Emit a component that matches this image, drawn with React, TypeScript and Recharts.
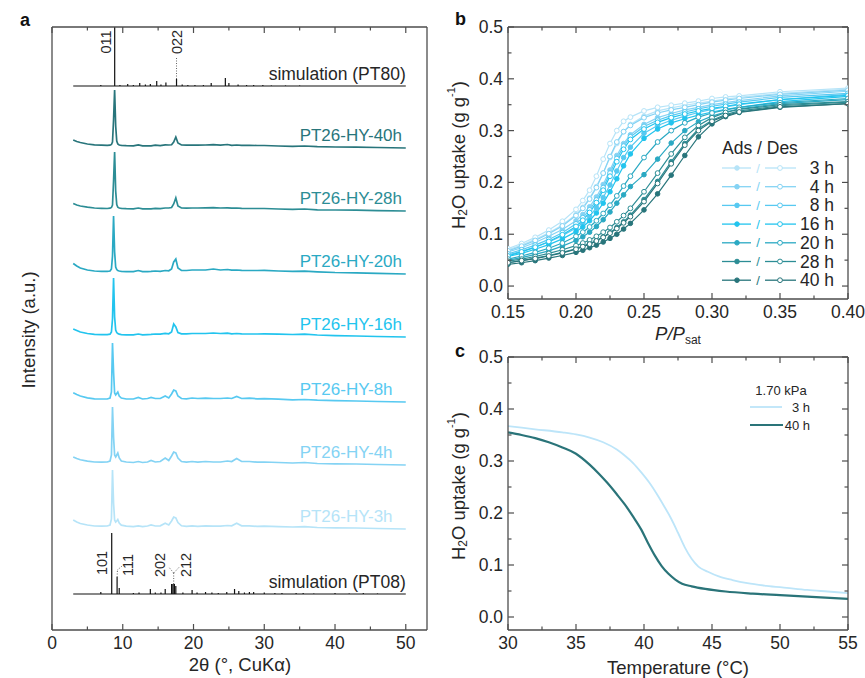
import React from 'react';
import { LineChart, Line, XAxis, YAxis, ReferenceDot, ReferenceLine } from 'recharts';

const FONT = '"Liberation Sans", Arial, Helvetica, sans-serif';
const AXIS = '#4d4d4d';
const INK = '#262626';

// sample colours, 3 h -> 40 h
const COLORS = ['#b6e4f8', '#84d3f4', '#57c9f1', '#22c4ee', '#2aa9c3', '#2c8d95', '#28757b'];
const HOURS = ['3', '4', '8', '16', '20', '28', '40'];

// ---------- a: PXRD patterns (a.u.) ----------
const TWO_THETA = [3, 3.5, 4, 5, 6, 7, 7.8, 8.2, 8.4, 8.55, 8.7, 8.85, 9.0, 9.15, 9.3, 9.5, 9.8, 10.5, 11.5, 12.2, 12.8, 13.5, 14.0, 14.6, 15.3, 16.0, 16.5, 16.9, 17.2, 17.5, 17.8, 18.3, 19.0, 19.8, 20.6, 21.7, 22.8, 23.8, 24.8, 25.4, 26.1, 26.8, 27.9, 29.0, 30.0, 32.0, 34.0, 35.7, 37.5, 40.0, 43.0, 46.0, 50.0];
const I_3H = [9, 7, 5.5, 4, 3, 2.8, 3, 4, 10, 59, 26, 9, 7, 8, 9.5, 6, 3.8, 2.8, 2.4, 3.2, 2.4, 3, 4, 3, 3.2, 5.7, 4, 8, 12, 11, 6.5, 3.2, 2.6, 3.2, 2.6, 3.2, 2.8, 2.8, 3.5, 3.2, 5.7, 3.2, 3.2, 2.6, 2.8, 2.4, 2, 2.4, 1.5, 1.2, 1, 0.5, 0];
const I_4H = [8, 6.5, 5.2, 3.8, 3, 2.8, 3, 4, 10, 58, 28, 10, 8, 10, 12, 7, 4, 3, 2.5, 3.5, 2.5, 3, 4.5, 3, 3.5, 7, 4.5, 9, 13, 12, 7, 3.5, 2.8, 3.5, 2.8, 3.5, 3, 3, 4, 3.5, 6.5, 3.5, 3.5, 2.8, 3, 2.5, 2, 2.5, 1.5, 1.2, 1, 0.5, 0];
const I_8H = [9.3, 7.5, 6, 4.2, 3.2, 3, 3, 4, 10, 59, 30, 9, 7, 8.5, 10, 6, 4, 3, 3, 4.5, 3, 3.5, 4.5, 3.5, 3.5, 6, 4, 8, 12, 11, 6, 3.5, 3.2, 4, 3.5, 3.8, 3.5, 3.5, 4, 3.5, 5.5, 3.5, 3.8, 3.2, 3.3, 2.8, 2.2, 2.5, 1.8, 1.3, 1, 0.5, 0];
const I_16H = [8, 6.5, 5, 3.5, 2.6, 2.3, 2.3, 2.8, 5, 18, 59, 20, 7, 4.5, 3.5, 2.8, 2.4, 2.2, 2.2, 3, 2.2, 2.4, 2.6, 3, 2.8, 3.6, 3.2, 5, 13, 10, 4.5, 3.2, 3.2, 3.5, 3.5, 3.5, 4, 3.5, 3.8, 3.2, 3.5, 3.2, 3, 3, 3.2, 2.8, 2.5, 2.8, 2, 1.4, 1, 0.5, 0];
const I_20H = [10.5, 8, 6, 4, 3, 2.7, 2.6, 3, 5, 18, 58, 22, 7, 4.5, 3.5, 3, 2.6, 2.4, 2.4, 3.5, 2.4, 2.4, 2.6, 3, 2.6, 3.5, 3.2, 5, 12, 15, 6, 3.5, 3.5, 4, 4, 4, 5, 4, 4.5, 3.8, 4, 3.6, 3.5, 3.5, 3.6, 3, 2.7, 2.8, 2.2, 1.5, 1.2, 0.6, 0];
const I_28H = [7.5, 6, 5, 3.8, 3, 2.7, 2.5, 2.8, 3.5, 6, 30, 59, 20, 6.5, 3.8, 3, 2.6, 2.3, 2.2, 3, 2.2, 2.2, 2.2, 2.6, 2.4, 3, 3, 3.5, 7, 13, 5, 3, 2.8, 3, 3, 3.2, 3.3, 3, 3.2, 2.8, 3, 2.6, 2.5, 2.5, 2.5, 2, 1.6, 2, 1.2, 1, 0.8, 0.4, 0];
const I_40H = [8, 6.5, 5.5, 4, 3.2, 2.8, 2.6, 2.8, 3.5, 6, 28, 58, 22, 7, 4, 3, 2.6, 2.3, 2.2, 3.2, 2.2, 2.2, 2.2, 2.8, 2.4, 3.2, 3, 3.2, 6, 11, 5, 3, 2.8, 3, 2.8, 3, 3.3, 2.8, 3.5, 2.6, 3, 2.6, 2.6, 2.5, 2.5, 2, 1.6, 2, 1.3, 1, 0.8, 0.5, 0];

// simulated stick patterns: positions (2θ) and heights
const PT80_POS = [6.9, 8.86, 9.6, 10.7, 11.5, 12.4, 13.2, 13.9, 14.8, 15.4, 16.1, 17.6, 18.4, 19.2, 20.2, 21.4, 22.5, 24.5, 25.0, 26.3, 27.5, 28.5, 29.8, 31.0, 33.0, 35.0, 37.0, 41.0, 44.0];
const PT80_H = [1, 59, 1, 2, 1, 3, 1.5, 2, 5, 1.5, 3.5, 7, 1.5, 1, 1, 1, 3, 8, 3, 1.5, 1, 1, 1, 0.8, 0.8, 0.8, 0.6, 0.5, 0.5];
const PT08_POS = [6.9, 8.44, 9.2, 9.5, 11.5, 12.3, 13.9, 14.6, 15.4, 16.0, 16.9, 17.1, 17.3, 17.5, 18.5, 19.8, 20.5, 21.7, 22.6, 23.5, 24.7, 25.8, 26.4, 27.2, 27.9, 28.5, 30.0, 31.5, 32.5, 34.5, 35.5, 37.0, 40.0, 42.0, 44.0, 46.0];
const PT08_H = [2, 61, 17, 6, 1, 1.5, 5, 1.5, 1.5, 5, 10, 10, 10, 8, 1.5, 4, 1.5, 2, 1.5, 1, 2, 5, 3, 1.5, 2, 2, 1.5, 1, 1, 1, 1, 0.8, 1, 0.8, 1, 0.8];

// ---------- b: water isotherms ----------
const P_REL = [0.15, 0.16, 0.17, 0.18, 0.19, 0.2, 0.205, 0.21, 0.215, 0.22, 0.225, 0.23, 0.235, 0.24, 0.25, 0.26, 0.27, 0.28, 0.29, 0.3, 0.31, 0.32, 0.35, 0.4];
const ADS_3H = [0.070, 0.079, 0.090, 0.103, 0.118, 0.138, 0.152, 0.170, 0.192, 0.218, 0.248, 0.275, 0.298, 0.312, 0.328, 0.338, 0.344, 0.349, 0.353, 0.357, 0.361, 0.364, 0.372, 0.380];
const DES_3H = [0.072, 0.082, 0.094, 0.108, 0.125, 0.148, 0.165, 0.185, 0.212, 0.245, 0.275, 0.300, 0.318, 0.326, 0.338, 0.345, 0.349, 0.353, 0.357, 0.362, 0.365, 0.367, 0.375, 0.382];
const ADS_4H = [0.066, 0.074, 0.084, 0.096, 0.109, 0.126, 0.138, 0.153, 0.172, 0.196, 0.224, 0.252, 0.275, 0.292, 0.312, 0.325, 0.333, 0.340, 0.345, 0.350, 0.354, 0.358, 0.367, 0.376];
const DES_4H = [0.068, 0.077, 0.088, 0.101, 0.116, 0.136, 0.150, 0.168, 0.190, 0.218, 0.250, 0.278, 0.298, 0.310, 0.325, 0.334, 0.340, 0.345, 0.350, 0.355, 0.359, 0.362, 0.370, 0.378];
const ADS_8H = [0.060, 0.067, 0.075, 0.085, 0.097, 0.112, 0.122, 0.135, 0.151, 0.171, 0.195, 0.222, 0.248, 0.268, 0.295, 0.310, 0.320, 0.328, 0.335, 0.341, 0.346, 0.350, 0.360, 0.370];
const DES_8H = [0.062, 0.070, 0.079, 0.090, 0.103, 0.120, 0.132, 0.147, 0.166, 0.190, 0.218, 0.246, 0.270, 0.288, 0.308, 0.320, 0.329, 0.336, 0.342, 0.347, 0.351, 0.355, 0.364, 0.372];
const ADS_16H = [0.057, 0.063, 0.071, 0.080, 0.091, 0.105, 0.114, 0.126, 0.141, 0.160, 0.182, 0.207, 0.232, 0.255, 0.285, 0.303, 0.315, 0.323, 0.330, 0.336, 0.341, 0.345, 0.356, 0.366];
const DES_16H = [0.058, 0.066, 0.075, 0.086, 0.099, 0.115, 0.127, 0.142, 0.161, 0.185, 0.212, 0.240, 0.264, 0.283, 0.303, 0.316, 0.325, 0.332, 0.338, 0.343, 0.347, 0.351, 0.360, 0.368];
const ADS_20H = [0.050, 0.055, 0.061, 0.068, 0.077, 0.088, 0.095, 0.104, 0.115, 0.128, 0.143, 0.160, 0.176, 0.192, 0.215, 0.245, 0.276, 0.300, 0.317, 0.328, 0.336, 0.342, 0.352, 0.360];
const DES_20H = [0.052, 0.058, 0.065, 0.073, 0.083, 0.096, 0.104, 0.114, 0.126, 0.140, 0.156, 0.174, 0.193, 0.212, 0.248, 0.278, 0.300, 0.315, 0.326, 0.334, 0.340, 0.345, 0.354, 0.362];
const ADS_28H = [0.045, 0.049, 0.054, 0.059, 0.065, 0.072, 0.077, 0.082, 0.088, 0.095, 0.103, 0.113, 0.124, 0.137, 0.167, 0.202, 0.240, 0.275, 0.303, 0.320, 0.331, 0.338, 0.348, 0.355];
const DES_28H = [0.048, 0.052, 0.057, 0.063, 0.070, 0.078, 0.083, 0.089, 0.096, 0.104, 0.113, 0.124, 0.136, 0.150, 0.182, 0.218, 0.255, 0.287, 0.310, 0.325, 0.335, 0.341, 0.350, 0.356];
const ADS_40H = [0.042, 0.045, 0.049, 0.054, 0.059, 0.065, 0.069, 0.074, 0.079, 0.085, 0.092, 0.100, 0.110, 0.121, 0.147, 0.178, 0.214, 0.252, 0.288, 0.313, 0.327, 0.335, 0.345, 0.352];
const DES_40H = [0.045, 0.049, 0.053, 0.058, 0.064, 0.071, 0.076, 0.081, 0.087, 0.094, 0.102, 0.111, 0.122, 0.134, 0.163, 0.198, 0.236, 0.272, 0.300, 0.318, 0.329, 0.336, 0.346, 0.352];

// ---------- c: isobars at 1.70 kPa ----------
const T_3H = [30, 32, 34, 35, 36, 37, 38, 38.6, 39.2, 39.8, 40.4, 41.0, 41.5, 42.0, 42.5, 43.0, 43.5, 44.0, 44.7, 45.5, 46.5, 47.6, 49, 50.5, 52, 53.5, 55];
const W_3H = [0.367, 0.361, 0.355, 0.351, 0.345, 0.336, 0.322, 0.310, 0.296, 0.278, 0.258, 0.234, 0.212, 0.189, 0.162, 0.134, 0.112, 0.097, 0.087, 0.078, 0.071, 0.065, 0.060, 0.056, 0.052, 0.049, 0.046];
const T_40H = [30, 31, 32, 33, 34, 35, 36, 36.7, 37.3, 38, 38.6, 39.2, 39.8, 40.3, 40.8, 41.3, 41.8, 42.3, 42.8, 43.5, 44.5, 46, 48, 50, 52, 55];
const W_40H = [0.355, 0.350, 0.344, 0.336, 0.326, 0.314, 0.293, 0.275, 0.258, 0.236, 0.216, 0.193, 0.168, 0.142, 0.118, 0.098, 0.083, 0.072, 0.064, 0.059, 0.054, 0.049, 0.045, 0.042, 0.039, 0.035];

// ---------- layout / series config ----------
const XRD_EXP = [
  { label: 'PT26-HY-3h', values: I_3H, color: COLORS[0], base: 101 },
  { label: 'PT26-HY-4h', values: I_4H, color: COLORS[1], base: 165 },
  { label: 'PT26-HY-8h', values: I_8H, color: COLORS[2], base: 228 },
  { label: 'PT26-HY-16h', values: I_16H, color: COLORS[3], base: 293 },
  { label: 'PT26-HY-20h', values: I_20H, color: COLORS[4], base: 356 },
  { label: 'PT26-HY-28h', values: I_28H, color: COLORS[5], base: 419 },
  { label: 'PT26-HY-40h', values: I_40H, color: COLORS[6], base: 482 },
];
const XRD_SIM = [
  { label: 'simulation (PT08)', pos: PT08_POS, h: PT08_H, base: 36 },
  { label: 'simulation (PT80)', pos: PT80_POS, h: PT80_H, base: 544 },
];
const ISOTHERMS = [
  { ads: ADS_3H, des: DES_3H },
  { ads: ADS_4H, des: DES_4H },
  { ads: ADS_8H, des: DES_8H },
  { ads: ADS_16H, des: DES_16H },
  { ads: ADS_20H, des: DES_20H },
  { ads: ADS_28H, des: DES_28H },
  { ads: ADS_40H, des: DES_40H },
];

const expData = (vals: number[], base: number) => TWO_THETA.map((x, i) => ({ x, y: base + vals[i] }));
const stickData = (pos: number[], h: number[], base: number) => {
  const out = [{ x: 3, y: base }];
  pos.forEach((p, i) => {
    out.push({ x: p, y: base }, { x: p, y: base + h[i] }, { x: p, y: base });
  });
  out.push({ x: 50, y: base });
  return out;
};
const pairs = (xs: number[], ys: number[]) => xs.map((x, i) => ({ x, y: ys[i] }));

// ---------- ticks (inward, major + minor) ----------
type Side = 'bottom' | 'top' | 'left' | 'right';
const near = (list: number[], v: number) => list.some((m) => Math.abs(m - v) < 1e-9);
function frameTick(side: Side, majors: number[], fmt?: (v: number) => string) {
  return (p: any) => {
    const v = p.payload.value;
    const major = near(majors, v);
    const len = major ? 6 : 3.5;
    const { x, y } = p;
    let x2 = x;
    let y2 = y;
    if (side === 'bottom') y2 = y - len;
    if (side === 'top') y2 = y + len;
    if (side === 'left') x2 = x + len;
    if (side === 'right') x2 = x - len;
    return (
      <g>
        <line x1={x} y1={y} x2={x2} y2={y2} stroke={AXIS} strokeWidth={1.2} />
        {fmt && major && side === 'bottom' && (
          <text x={x} y={y + 19} textAnchor="middle" fontSize={17.5} fill={INK} fontFamily={FONT}>
            {fmt(v)}
          </text>
        )}
        {fmt && major && side === 'left' && (
          <text x={x - 5} y={y + 6} textAnchor="end" fontSize={17.5} fill={INK} fontFamily={FONT}>
            {fmt(v)}
          </text>
        )}
      </g>
    );
  };
}

const axisLine = { stroke: AXIS, strokeWidth: 1.3 };
// axes need a non-zero box to be drawn; 1px each, margins shrink by the same amount
const AX = 1;

const textLabel = (text: string, color: string, anchor: 'start' | 'end', size: number) => (p: any) => (
  <text x={p.viewBox.x} y={p.viewBox.y} textAnchor={anchor} dominantBaseline="central" fill={color} fontSize={size} fontFamily={FONT}>
    {text}
  </text>
);
const rotLabel = (text: string) => (p: any) => {
  const { x, y } = p.viewBox;
  return (
    <text x={x} y={y} transform={`rotate(-90 ${x} ${y})`} textAnchor="middle" dominantBaseline="central" fontSize={14.5} fill={INK} fontFamily={FONT}>
      {text}
    </text>
  );
};

const A_TICKS = [0, 5, 10, 15, 20, 25, 30, 35, 40, 45, 50];
const A_MAJOR = [0, 10, 20, 30, 40, 50];

function PanelA() {
  const dotted = { stroke: '#666', strokeWidth: 1, strokeDasharray: '1 1.5', xAxisId: 'b', yAxisId: 'l' };
  return (
    <div style={{ position: 'absolute', left: 0, top: 0 }}>
      <LineChart width={440} height={678} margin={{ top: 27 - AX, right: 13 - AX, bottom: 48 - AX, left: 52 - AX }}>
        <XAxis
          xAxisId="b"
          dataKey="x"
          type="number"
          domain={[0, 53]}
          allowDataOverflow
          ticks={A_TICKS}
          interval={0}
          height={AX}
          tickSize={0}
          tickMargin={0}
          tickLine={false}
          axisLine={axisLine}
          tick={frameTick('bottom', A_MAJOR, (v) => String(v))}
          label={{
            content: () => (
              <text x={240} y={671} textAnchor="middle" fontSize={18.5} fill={INK} fontFamily={FONT}>
                2θ (°, CuKα)
              </text>
            ),
          }}
        />
        <XAxis xAxisId="t" orientation="top" dataKey="x" type="number" domain={[0, 53]} allowDataOverflow ticks={A_TICKS} interval={0} height={AX} tickSize={0} tickMargin={0} tickLine={false} axisLine={axisLine} tick={frameTick('top', A_MAJOR)} />
        <YAxis
          yAxisId="l"
          type="number"
          domain={[0, 603]}
          allowDataOverflow
          ticks={[0, 603]}
          width={AX}
          tick={false}
          tickLine={false}
          axisLine={axisLine}
          label={{
            content: () => (
              <text x={28} y={330} transform="rotate(-90 28 330)" textAnchor="middle" dominantBaseline="central" fontSize={18.5} fill={INK} fontFamily={FONT}>
                Intensity (a.u.)
              </text>
            ),
          }}
        />
        <YAxis yAxisId="r" orientation="right" type="number" domain={[0, 603]} allowDataOverflow ticks={[0, 603]} width={AX} tick={false} tickLine={false} axisLine={axisLine} />

        {XRD_SIM.map((s) => (
          <Line key={s.label} xAxisId="b" yAxisId="l" data={stickData(s.pos, s.h, s.base)} dataKey="y" type="linear" stroke="#111" strokeWidth={1.2} dot={false} isAnimationActive={false} />
        ))}
        {XRD_EXP.map((s) => (
          <Line key={s.label} xAxisId="b" yAxisId="l" data={expData(s.values, s.base)} dataKey="y" type="linear" stroke={s.color} strokeWidth={1.7} dot={false} isAnimationActive={false} />
        ))}

        {XRD_EXP.map((s) => (
          <ReferenceDot key={'lab' + s.label} xAxisId="b" yAxisId="l" x={35} y={s.base + 13} r={0} fill="none" stroke="none" label={textLabel(s.label, s.color, 'start', 17)} />
        ))}
        {XRD_SIM.map((s) => (
          <ReferenceDot key={'lab' + s.label} xAxisId="b" yAxisId="l" x={50} y={s.base + 12} r={0} fill="none" stroke="none" label={textLabel(s.label, INK, 'end', 17.5)} />
        ))}

        {/* reflection indices */}
        <ReferenceDot xAxisId="b" yAxisId="l" x={7.7} y={588} r={0} fill="none" stroke="none" label={rotLabel('011')} />
        <ReferenceDot xAxisId="b" yAxisId="l" x={17.6} y={588} r={0} fill="none" stroke="none" label={rotLabel('022')} />
        <ReferenceLine {...dotted} segment={[{ x: 17.6, y: 551 }, { x: 17.6, y: 572 }]} />
        <ReferenceDot xAxisId="b" yAxisId="l" x={7.0} y={67} r={0} fill="none" stroke="none" label={rotLabel('101')} />
        <ReferenceDot xAxisId="b" yAxisId="l" x={10.7} y={65} r={0} fill="none" stroke="none" label={rotLabel('111')} />
        <ReferenceDot xAxisId="b" yAxisId="l" x={15.2} y={65} r={0} fill="none" stroke="none" label={rotLabel('202')} />
        <ReferenceDot xAxisId="b" yAxisId="l" x={19.0} y={65} r={0} fill="none" stroke="none" label={rotLabel('212')} />
        <ReferenceLine {...dotted} segment={[{ x: 9.2, y: 53 }, { x: 9.25, y: 60 }]} />
        <ReferenceLine {...dotted} segment={[{ x: 9.25, y: 60 }, { x: 9.9, y: 64 }]} />
        <ReferenceLine {...dotted} segment={[{ x: 17.2, y: 46 }, { x: 17.2, y: 57 }]} />
        <ReferenceLine {...dotted} segment={[{ x: 17.2, y: 57 }, { x: 16.5, y: 63 }]} />
        <ReferenceLine {...dotted} segment={[{ x: 17.2, y: 57 }, { x: 18.0, y: 63 }]} />
      </LineChart>
    </div>
  );
}

const U_TICKS = [0, 0.05, 0.1, 0.15, 0.2, 0.25, 0.3, 0.35, 0.4, 0.45, 0.5];
const U_MAJOR = [0, 0.1, 0.2, 0.3, 0.4, 0.5];

function UptakeLabel({ cy }: { cy: number }) {
  return (
    <text x={18} y={cy} transform={`rotate(-90 18 ${cy})`} textAnchor="middle" dominantBaseline="central" fontSize={18.5} fill={INK} fontFamily={FONT}>
      H<tspan fontSize={12} dy={5}>2</tspan>
      <tspan dy={-5}>O uptake (g g</tspan>
      <tspan fontSize={11} dy={-7}>-1</tspan>
      <tspan dy={7}>)</tspan>
    </text>
  );
}

const P_TICKS = [0.15, 0.175, 0.2, 0.225, 0.25, 0.275, 0.3, 0.325, 0.35, 0.375, 0.4];
const P_MAJOR = [0.15, 0.2, 0.25, 0.3, 0.35, 0.4];

function PanelB() {
  return (
    <div style={{ position: 'absolute', left: 440, top: 0 }}>
      <LineChart width={425} height={350} margin={{ top: 27 - AX, right: 17 - AX, bottom: 51 - AX, left: 68 - AX }}>
        <XAxis
          xAxisId="b"
          dataKey="x"
          type="number"
          domain={[0.15, 0.4]}
          allowDataOverflow
          ticks={P_TICKS}
          interval={0}
          height={AX}
          tickSize={0}
          tickMargin={0}
          tickLine={false}
          axisLine={axisLine}
          tick={frameTick('bottom', P_MAJOR, (v) => v.toFixed(2))}
          label={{
            content: () => (
              <text x={238} y={340} textAnchor="middle" fontSize={18.5} fill={INK} fontFamily={FONT} fontStyle="italic">
                P/P<tspan fontSize={12} fontStyle="normal" dy={4}>sat</tspan>
              </text>
            ),
          }}
        />
        <XAxis xAxisId="t" orientation="top" dataKey="x" type="number" domain={[0.15, 0.4]} allowDataOverflow ticks={P_TICKS} interval={0} height={AX} tickSize={0} tickMargin={0} tickLine={false} axisLine={axisLine} tick={frameTick('top', P_MAJOR)} />
        <YAxis yAxisId="l" type="number" domain={[-0.025, 0.5]} allowDataOverflow ticks={U_TICKS} interval={0} width={AX} tickSize={0} tickMargin={0} tickLine={false} axisLine={axisLine} tick={frameTick('left', U_MAJOR, (v) => v.toFixed(1))} label={{ content: () => <UptakeLabel cy={155} /> }} />
        <YAxis yAxisId="r" orientation="right" type="number" domain={[-0.025, 0.5]} allowDataOverflow ticks={U_TICKS} interval={0} width={AX} tickSize={0} tickMargin={0} tickLine={false} axisLine={axisLine} tick={frameTick('right', U_MAJOR)} />
        {ISOTHERMS.map((s, i) => [
          <Line key={'a' + i} xAxisId="b" yAxisId="l" data={pairs(P_REL, s.ads)} dataKey="y" type="linear" stroke={COLORS[i]} strokeWidth={1.2} dot={{ r: 2.3, fill: COLORS[i], stroke: COLORS[i], strokeWidth: 1 }} isAnimationActive={false} />,
          <Line key={'d' + i} xAxisId="b" yAxisId="l" data={pairs(P_REL, s.des)} dataKey="y" type="linear" stroke={COLORS[i]} strokeWidth={1.2} dot={{ r: 2.4, fill: '#fff', stroke: COLORS[i], strokeWidth: 1 }} isAnimationActive={false} />,
        ])}
      </LineChart>
    </div>
  );
}

const T_TICKS = [30, 32.5, 35, 37.5, 40, 42.5, 45, 47.5, 50, 52.5, 55];
const T_MAJOR = [30, 35, 40, 45, 50, 55];

function PanelC() {
  return (
    <div style={{ position: 'absolute', left: 440, top: 330 }}>
      <LineChart width={425} height={348} margin={{ top: 27 - AX, right: 17 - AX, bottom: 48 - AX, left: 68 - AX }}>
        <XAxis
          xAxisId="b"
          dataKey="x"
          type="number"
          domain={[30, 55]}
          allowDataOverflow
          ticks={T_TICKS}
          interval={0}
          height={AX}
          tickSize={0}
          tickMargin={0}
          tickLine={false}
          axisLine={axisLine}
          tick={frameTick('bottom', T_MAJOR, (v) => String(v))}
          label={{
            content: () => (
              <text x={238} y={344} textAnchor="middle" fontSize={18.5} fill={INK} fontFamily={FONT}>
                Temperature (°C)
              </text>
            ),
          }}
        />
        <XAxis xAxisId="t" orientation="top" dataKey="x" type="number" domain={[30, 55]} allowDataOverflow ticks={T_TICKS} interval={0} height={AX} tickSize={0} tickMargin={0} tickLine={false} axisLine={axisLine} tick={frameTick('top', T_MAJOR)} />
        <YAxis yAxisId="l" type="number" domain={[-0.025, 0.5]} allowDataOverflow ticks={U_TICKS} interval={0} width={AX} tickSize={0} tickMargin={0} tickLine={false} axisLine={axisLine} tick={frameTick('left', U_MAJOR, (v) => v.toFixed(1))} label={{ content: () => <UptakeLabel cy={156} /> }} />
        <YAxis yAxisId="r" orientation="right" type="number" domain={[-0.025, 0.5]} allowDataOverflow ticks={U_TICKS} interval={0} width={AX} tickSize={0} tickMargin={0} tickLine={false} axisLine={axisLine} tick={frameTick('right', U_MAJOR)} />
        <Line xAxisId="b" yAxisId="l" data={pairs(T_3H, W_3H)} dataKey="y" type="monotone" stroke="#bde5f9" strokeWidth={1.8} dot={false} isAnimationActive={false} />
        <Line xAxisId="b" yAxisId="l" data={pairs(T_40H, W_40H)} dataKey="y" type="monotone" stroke="#2a7479" strokeWidth={2.2} dot={false} isAnimationActive={false} />
      </LineChart>
    </div>
  );
}

function Overlay() {
  return (
    <svg width={865} height={678} style={{ position: 'absolute', left: 0, top: 0, pointerEvents: 'none' }} fontFamily={FONT}>
      <text x={20} y={26} fontSize={18} fontWeight="bold" fill="#111">a</text>
      <text x={455} y={25} fontSize={18} fontWeight="bold" fill="#111">b</text>
      <text x={455} y={357} fontSize={18} fontWeight="bold" fill="#111">c</text>

      {/* legend b */}
      <text x={722} y={148} dominantBaseline="central" fontSize={17.5} fill={INK}>Ads / Des</text>
      {HOURS.map((h, i) => {
        const y = 168 + i * 18.7;
        const c = COLORS[i];
        return (
          <g key={h}>
            <line x1={722} x2={751} y1={y} y2={y} stroke={c} strokeWidth={1.3} />
            <circle cx={737} cy={y} r={2.3} fill={c} stroke={c} />
            <text x={758} y={y} textAnchor="middle" dominantBaseline="central" fontSize={13} fill={c}>/</text>
            <line x1={765} x2={796} y1={y} y2={y} stroke={c} strokeWidth={1.3} />
            <circle cx={780} cy={y} r={2.4} fill="#fff" stroke={c} />
            <text x={834} y={y} textAnchor="end" dominantBaseline="central" fontSize={17.5} fill={INK}>{h} h</text>
          </g>
        );
      })}

      {/* legend c */}
      <text x={781} y={390} textAnchor="middle" dominantBaseline="central" fontSize={13} fill={INK}>1.70 kPa</text>
      <line x1={750} x2={782} y1={407} y2={407} stroke="#bde5f9" strokeWidth={1.8} />
      <text x={810} y={407} textAnchor="end" dominantBaseline="central" fontSize={13} fill={INK}>3 h</text>
      <line x1={750} x2={783} y1={425} y2={425} stroke="#2a7479" strokeWidth={2.2} />
      <text x={810} y={425} textAnchor="end" dominantBaseline="central" fontSize={13} fill={INK}>40 h</text>
    </svg>
  );
}

export default function App() {
  return (
    <div style={{ position: 'absolute', left: 0, top: 0, width: 865, height: 678, background: '#fff', fontFamily: FONT }}>
      <PanelA />
      <PanelB />
      <PanelC />
      <Overlay />
    </div>
  );
}
